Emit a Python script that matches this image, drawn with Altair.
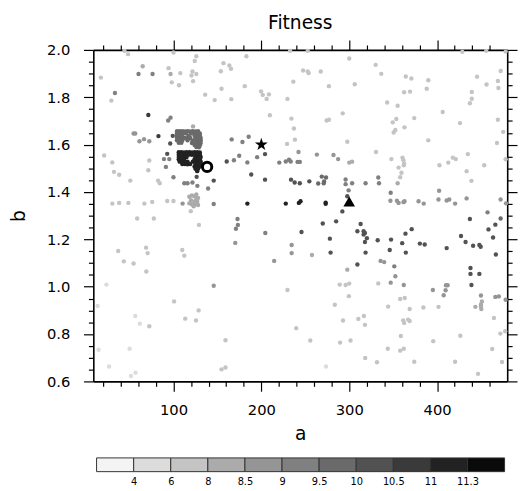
import altair as alt
import pandas as pd

FONT = "DejaVu Sans"

# ---- colour bar definition ----
thresholds = [4, 6, 8, 8.5, 9, 9.5, 10, 10.5, 11, 11.3]
bar_labels = ["4", "6", "8", "8.5", "9", "9.5", "10", "10.5", "11", "11.3"]
grays = ["#f4f4f4", "#dcdcdc", "#c4c4c4", "#ababab", "#959595", "#808080",
         "#6a6a6a", "#525252", "#3a3a3a", "#222222", "#0a0a0a"]

# ---- scatter data, grouped by fitness level: (a, b) pairs ----
fit_faint = 5.0
pts_faint = [(23.7, 1.009), (13.7, 0.919), (56.5, 0.876), (61.7, 0.844), (14.8, 0.734),
             (50.1, 0.738), (26.7, 0.663), (56.8, 0.637), (51.6, 0.623), (273.6, 0.663)]

fit_light = 7.0
pts_light = [
    (44.2, 1.996), (48.3, 1.982), (100, 1.989), (126, 1.973), (124.2, 1.953), (94.4, 1.923),
    (156.9, 1.944), (163.6, 1.934), (165.5, 1.92), (183, 1.973), (17.4, 1.883), (107.8, 1.902),
    (121.6, 1.909), (120.5, 1.892), (126, 1.898), (153.9, 1.91), (98.1, 1.863), (106.3, 1.851),
    (122.3, 1.868), (181.1, 1.847), (29.3, 1.786), (136.1, 1.811), (146.9, 1.788), (154.7, 1.836),
    (165.8, 1.792), (199.7, 1.825), (201.6, 1.81), (208.6, 1.812), (206, 1.793), (209.7, 1.724),
    (21.1, 1.554), (30.4, 1.525), (32.3, 1.485), (38.2, 1.473), (50.9, 1.448), (71.4, 1.492),
    (72.5, 1.533), (82.5, 1.448), (84.4, 1.437), (30.4, 1.351), (38.2, 1.354), (48.7, 1.354),
    (66.9, 1.351), (75.8, 1.358), (92.9, 1.362), (100, 1.362), (119.7, 1.319), (58.7, 1.288),
    (77.7, 1.288), (129, 1.261), (37.1, 1.151), (43.5, 1.107), (54.6, 1.098), (68.8, 1.165),
    (70.6, 1.142), (69.1, 1.064), (110, 1.155), (112.3, 1.131), (100.7, 0.938), (128.6, 0.9),
    (113.4, 0.865), (125.7, 0.857), (72.5, 0.833), (159.2, 0.774), (154.7, 0.651), (159.2, 0.659),
    (232.7, 1.996), (252.8, 1.996), (428.7, 1.992), (455.9, 1.996), (300, 1.964), (330.1, 1.937),
    (247.5, 1.913), (252.8, 1.909), (253.9, 1.902), (267.6, 1.909), (336.5, 1.899), (364.4, 1.888),
    (370.7, 1.879), (390, 1.872), (445.5, 1.887), (456.3, 1.854), (236.4, 1.866), (276.9, 1.847),
    (306.3, 1.855), (362.5, 1.821), (369.2, 1.824), (388.2, 1.836), (439.5, 1.822), (439.5, 1.794),
    (437.3, 1.775), (229.7, 1.793), (343.2, 1.778), (355.1, 1.764), (292.6, 1.732), (406.4, 1.738),
    (234.2, 1.71), (274.3, 1.702), (276.9, 1.705), (349.5, 1.694), (353.6, 1.708), (374, 1.712),
    (362.9, 1.673), (426.1, 1.691), (237.1, 1.668), (352.5, 1.662), (350.6, 1.651), (238.2, 1.621),
    (229.3, 1.603), (297.8, 1.612), (390, 1.618), (330.5, 1.569), (435, 1.56), (348, 1.539),
    (360.6, 1.545), (361.7, 1.534), (362.5, 1.52), (362.1, 1.513), (356.2, 1.503), (359.5, 1.481),
    (358, 1.462), (402.7, 1.513), (412.7, 1.524), (417.9, 1.545), (421.3, 1.539), (433.6, 1.488),
    (439.1, 1.447), (453.6, 1.513), (472.4, 1.911), (469.2, 1.869), (469.8, 1.839), (478, 1.993),
    (469.2, 1.705), (475.2, 1.654), (468.1, 1.607), (478, 1.538),
    (289.2, 1.009), (295.9, 1.007), (300, 1.013), (333.1, 1.014), (229.7, 0.986), (299.6, 0.96),
    (358, 0.948), (363.2, 0.952), (283.6, 0.924), (344.3, 0.916), (368.8, 0.906), (384.4, 0.912),
    (401.6, 0.915), (316.7, 0.876), (317.9, 0.839), (310.4, 0.864), (292.9, 0.857), (361.4, 0.858),
    (362.5, 0.847), (367, 0.861), (368.8, 0.855), (239.7, 0.825), (255.7, 0.773), (289.6, 0.764),
    (301.5, 0.773), (358.8, 0.792), (395.6, 0.77), (426.5, 0.793), (343.9, 0.738), (358, 0.73),
    (362.1, 0.738), (318.2, 0.699), (331.6, 0.681), (374, 0.683), (420.5, 0.683), (446.6, 0.632),
    (464.7, 0.868), (472, 0.802), (477.5, 0.812), (462.7, 0.737), (473.9, 0.682),
]

fit_medlight = 8.2
pts_medlight = [
    (96.7, 1.898), (65, 1.931), (122.3, 1.677), (300, 1.524), (303.3, 1.528), (355.1, 1.437),
    (257.6, 1.134), (297.8, 1.072), (443.6, 0.915), (449.9, 0.916), (450.3, 0.906), (449.9, 0.925),
    (451, 0.938), (118, 1.38), (121, 1.385), (124, 1.382), (126, 1.37), (120, 1.365), (124, 1.36),
    (127, 1.36), (118, 1.352), (121, 1.348), (125, 1.35), (128, 1.345), (123, 1.34), (126, 1.39),
    (128, 1.375),
]

fit_medium = 8.7
pts_medium = [
    (54.6, 1.647), (56.5, 1.647), (61.3, 1.614), (66.5, 1.623), (72.5, 1.614), (110.4, 1.351),
    (242.3, 1.569), (263.2, 1.558), (282.1, 1.556), (287.4, 1.539), (346.9, 1.363), (354.3, 1.363),
    (356.2, 1.354), (361.8, 1.357), (362.9, 1.361), (378.9, 1.361), (384.8, 1.351), (401.6, 1.368),
    (410.9, 1.364), (413.8, 1.368), (420.5, 1.351), (433.6, 1.373), (402.3, 1.405), (234.5, 1.176),
    (234.5, 1.142), (335.7, 1.109), (339.8, 1.104), (352.5, 1.044), (347.2, 1.017), (362.1, 1.007),
    (395.2, 0.986), (410.1, 1.006), (412, 1.006), (409.7, 0.985), (407.5, 0.964), (449.9, 0.963),
    (170.3, 1.185), (214.6, 1.109), (145.8, 1.004), (472.3, 1.368), (478.5, 1.352), (466.3, 0.957),
    (470.3, 0.959), (478, 0.945),
]

fit_meddark = 9.2
pts_meddark = [
    (60.2, 1.898), (76.2, 1.898), (33.4, 1.818), (94, 1.702), (96.7, 1.714), (89.2, 1.539),
    (95.2, 1.539), (91.4, 1.506), (100, 1.462), (121.6, 1.44), (116, 1.437), (112.3, 1.437),
    (127.2, 1.426), (168.8, 1.534), (174.8, 1.553), (184.1, 1.525), (195.2, 1.547), (139.4, 1.415),
    (145.8, 1.349), (220.4, 1.524), (227.8, 1.529), (231.5, 1.536), (233.4, 1.529), (241.2, 1.527),
    (243.8, 1.527), (295.9, 1.453), (295.9, 1.433), (303.3, 1.437), (318.6, 1.437), (333.1, 1.461),
    (333.9, 1.437), (347.2, 1.397), (299.3, 1.407), (457.4, 1.314), (351.3, 1.086), (172.9, 1.286),
    (173.3, 1.261), (171.1, 1.245), (204.5, 1.227), (166.2, 1.622), (185.6, 1.633), (178.5, 1.611),
]

fit_dark6 = 9.7
pts_dark6 = [
    (104, 1.657), (107, 1.657), (110, 1.657), (113, 1.656), (116, 1.657), (119, 1.656), (122, 1.657),
    (125, 1.656), (128, 1.657), (104, 1.648), (107, 1.648), (110, 1.647), (114, 1.648), (120, 1.647),
    (124, 1.648), (127, 1.648), (130, 1.647), (104, 1.638), (107, 1.638), (110, 1.637), (117, 1.638),
    (124, 1.637), (127, 1.638), (130, 1.638), (104, 1.628), (107, 1.628), (110, 1.627), (113, 1.628),
    (116, 1.627), (119, 1.628), (125, 1.628), (128, 1.627), (131, 1.628), (104, 1.618), (107, 1.618),
    (110, 1.617), (116, 1.618), (122, 1.618), (125, 1.617), (128, 1.618), (131, 1.618), (106, 1.608),
    (109, 1.608), (121, 1.607), (125, 1.608), (128, 1.608), (131, 1.607), (124, 1.598), (127, 1.598),
    (130, 1.597), (126, 1.59), (129, 1.589),
    (264.7, 1.436), (271.4, 1.444), (268.8, 1.465), (273.6, 1.461), (271, 1.437), (472.3, 1.288),
]

fit_dark = 10.2
pts_dark = [
    (99.2, 1.637), (96.3, 1.605), (92.9, 1.561), (126.4, 1.464), (145.8, 1.448), (160.6, 1.529),
    (204.2, 1.56), (188.5, 1.474), (204.2, 1.452), (233.8, 1.452), (237.9, 1.44), (243.8, 1.437),
    (254.6, 1.445), (297.8, 1.382), (292.2, 1.318), (269.9, 1.267), (285.1, 1.276), (313, 1.265),
    (245.7, 1.231), (309.3, 1.234), (316.4, 1.234), (316.4, 1.22), (317.9, 1.227), (320.1, 1.205),
    (317.9, 1.189), (278, 1.203), (371.1, 1.243), (364, 1.224), (332.4, 1.196), (347.6, 1.199),
    (360.3, 1.184), (380.4, 1.182), (385.9, 1.178), (410.9, 1.163), (427.2, 1.214), (432.4, 1.189),
    (441, 1.173), (448.1, 1.176), (449.6, 1.169), (437.3, 1.286), (458.5, 1.242), (346.1, 1.155),
    (364.4, 1.144), (318.6, 1.144), (278.8, 1.144), (309.3, 1.094), (438, 1.079), (438, 1.054),
    (448.1, 1.054), (439.1, 1.007), (466.3, 1.262), (463.7, 1.208), (466.9, 1.136),
]

fit_darker = 10.7
pts_darker = [(71.4, 1.725), (82.9, 1.636)]

fit_verydark = 11.1
pts_verydark = [
    (106, 1.568), (109, 1.568), (112, 1.567), (115, 1.568), (118, 1.568), (121, 1.567), (124, 1.568),
    (127, 1.568), (130, 1.567), (106, 1.558), (109, 1.558), (112, 1.557), (115, 1.558), (118, 1.558),
    (121, 1.557), (124, 1.558), (127, 1.558), (130, 1.557), (106, 1.548), (109, 1.548), (112, 1.547),
    (115, 1.548), (125, 1.548), (128, 1.547), (131, 1.548), (106, 1.538), (109, 1.538), (112, 1.537),
    (124, 1.538), (127, 1.537), (130, 1.538), (107, 1.528), (110, 1.528), (113, 1.527), (116, 1.528),
    (122, 1.528), (125, 1.527), (128, 1.528), (131, 1.528), (110, 1.518), (113, 1.518), (116, 1.517),
    (119, 1.518), (125, 1.518), (128, 1.517), (131, 1.518), (124, 1.508), (127, 1.508), (130, 1.507),
    (125, 1.498), (128, 1.498), (127, 1.488),
    (184.1, 1.351), (227.8, 1.351), (242.7, 1.354), (244.6, 1.361), (273.2, 1.355), (273.2, 1.35),
]

# ---- special markers ----
star_pt = (200, 1.6)
ring_pt = (138.3, 1.506)
tri_pt = (300, 1.36)
STAR_PATH = ("M0,-1L0.2245,-0.309L0.951,-0.309L0.3633,0.118L0.5878,0.809L0,0.382"
             "L-0.5878,0.809L-0.3633,0.118L-0.951,-0.309L-0.2245,-0.309Z")

# ---- axis ticks ----
x_ticks = [20, 40, 60, 80, 100, 120, 140, 160, 180, 200, 220, 240, 260, 280, 300,
           320, 340, 360, 380, 400, 420, 440, 460]
y_ticks = [0.6, 0.65, 0.7, 0.75, 0.8, 0.85, 0.9, 0.95, 1.0, 1.05, 1.1, 1.15, 1.2, 1.25,
           1.3, 1.35, 1.4, 1.45, 1.5, 1.55, 1.6, 1.65, 1.7, 1.75, 1.8, 1.85, 1.9, 1.95, 2.0]

groups = [(fit_faint, pts_faint), (fit_light, pts_light), (fit_medlight, pts_medlight),
          (fit_medium, pts_medium), (fit_meddark, pts_meddark), (fit_dark6, pts_dark6),
          (fit_dark, pts_dark), (fit_darker, pts_darker), (fit_verydark, pts_verydark)]
rows = [{"a": a, "b": b, "fitness": f} for f, pts in groups for (a, b) in pts]
df = pd.DataFrame(rows).sort_values("fitness", kind="stable")

W, H = 422, 338
xs = alt.Scale(domain=[8.8, 479.8], nice=False, zero=False)
ys = alt.Scale(domain=[0.6, 2.0], nice=False, zero=False)

x_major = "datum.value % 100 === 0"
y_major = "abs(datum.value * 5 - round(datum.value * 5)) < 0.001"


def dash(test):
    return {"condition": {"test": f"!({test})", "value": [5, 30]}, "value": [30, 0]}


common = dict(grid=False, tickSize=10, tickWidth=1.2, tickColor="black", domainColor="black",
              domainWidth=1.6, labelFont=FONT, labelFontSize=15, labelColor="black",
              titleFont=FONT, titleFontSize=19, titleFontWeight="normal", titleColor="black",
              labelFlush=False, labelOverlap=False)

x_bottom = alt.Axis(orient="bottom", values=x_ticks, labelExpr=f"{x_major} ? datum.label : ''",
                    tickDash=dash(x_major), labelPadding=12, titlePadding=7, **common)
y_left = alt.Axis(orient="left", values=y_ticks, format=".1f",
                  labelExpr=f"{y_major} ? datum.label : ''", tickDash=dash(y_major),
                  labelPadding=14, titlePadding=18, **common)
x_top = alt.Axis(orient="top", values=x_ticks, labels=False, title=None,
                 tickDash=dash(x_major), **common)
y_right = alt.Axis(orient="right", values=y_ticks, labels=False, title=None,
                   tickDash=dash(y_major), **common)

points = alt.Chart(df).mark_circle(size=20, opacity=1).encode(
    x=alt.X("a:Q", scale=xs, axis=x_bottom, title="a"),
    y=alt.Y("b:Q", scale=ys, axis=y_left, title="b"),
    color=alt.Color("fitness:Q", scale=alt.Scale(type="threshold", domain=thresholds, range=grays),
                    legend=None),
)

star_df = pd.DataFrame([{"a": star_pt[0], "b": star_pt[1]}])
ring_df = pd.DataFrame([{"a": ring_pt[0], "b": ring_pt[1]}])
tri_df = pd.DataFrame([{"a": tri_pt[0], "b": tri_pt[1]}])

star = alt.Chart(star_df).mark_point(shape=STAR_PATH, size=190, filled=True, color="black",
                                     opacity=1).encode(
    x=alt.X("a:Q", scale=xs, axis=x_top),
    y=alt.Y("b:Q", scale=ys, axis=y_right),
)
ring = alt.Chart(ring_df).mark_point(shape="circle", size=90, filled=False, color="black",
                                     strokeWidth=3, opacity=1).encode(
    x=alt.X("a:Q", scale=xs, axis=None),
    y=alt.Y("b:Q", scale=ys, axis=None),
)
tri = alt.Chart(tri_df).mark_point(shape="triangle-up", size=140, filled=True, color="black",
                                   opacity=1).encode(
    x=alt.X("a:Q", scale=xs, axis=None),
    y=alt.Y("b:Q", scale=ys, axis=None),
)

main = alt.layer(points, star, ring, tri).resolve_axis(x="independent", y="independent").properties(
    width=W, height=H,
    title=alt.TitleParams("Fitness", font=FONT, fontSize=19, fontWeight="normal", color="black",
                          anchor="middle", offset=7),
)

# ---- colour bar ----
cb_df = pd.DataFrame({"lo": list(range(len(grays))), "hi": list(range(1, len(grays) + 1)),
                      "col": grays})
label_expr = "[" + ",".join(f"'{s}'" for s in bar_labels) + "][datum.value - 1]"
cbar = alt.Chart(cb_df).mark_rect(stroke="#333333", strokeWidth=1).encode(
    x=alt.X("lo:Q", scale=alt.Scale(domain=[-0.0873, 11.071], nice=False, zero=False),
            axis=alt.Axis(values=list(range(1, len(grays))), labelExpr=label_expr, ticks=False,
                          domain=False, grid=False, labelFont=FONT, labelFontSize=10,
                          labelColor="black", labelPadding=5, title=None, labelFlush=False)),
    x2="hi:Q",
    y=alt.value(0),
    y2=alt.value(14),
    fill=alt.Fill("col:N", scale=None),
).properties(width=W, height=14)

chart = alt.vconcat(main, cbar, spacing=14).properties(
    padding={"left": 2, "top": 1, "right": 0, "bottom": 0}
).configure_view(stroke=None)

chart.save("out.html", embed_options={"renderer": "svg", "actions": False})
